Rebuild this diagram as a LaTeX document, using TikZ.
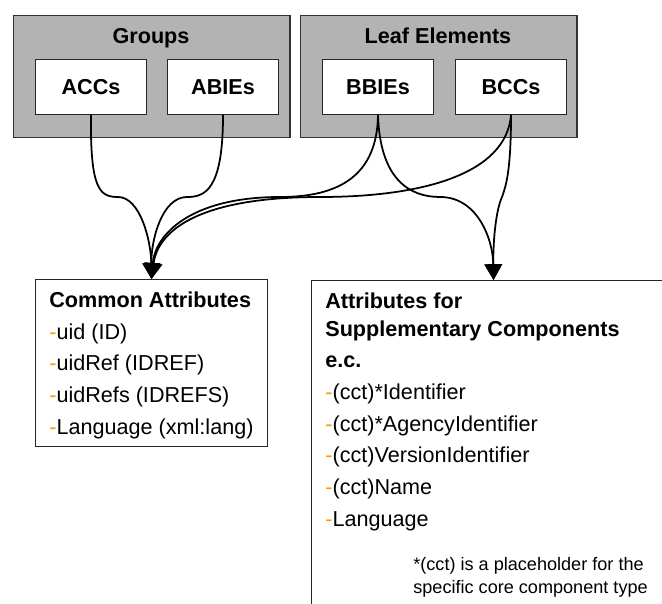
\documentclass[tikz,border=0pt]{standalone}
\usepackage{fontspec}
\setmainfont{Liberation Sans}
\usetikzlibrary{positioning, arrows.meta}
\definecolor{boxgray}{RGB}{179,179,179}
\definecolor{dashorange}{RGB}{255,153,0}
\newcommand{\attr}[1]{\textcolor{dashorange}{-}#1}

\begin{document}
\begin{tikzpicture}[x=0.02cm, y=-0.02cm,
    groupbox/.style={draw=black!80, fill=boxgray, line width=0.6pt, minimum width=5.53cm, minimum height=2.44cm, anchor=north west},
    elembox/.style={draw=black!85, fill=white, line width=0.6pt, minimum width=2.22cm, minimum height=1.1cm, anchor=north west, font=\fontsize{12.3}{14}\selectfont\bfseries},
    attbox/.style={draw=black!85, fill=white, line width=0.6pt, anchor=north west},
    titletext/.style={font=\fontsize{12.3}{14}\selectfont\bfseries, inner sep=0pt, anchor=base},
    headtext/.style={font=\fontsize{12.3}{14}\selectfont\bfseries, inner sep=0pt, anchor=base west},
    itemtext/.style={font=\fontsize{12.3}{14}\selectfont, inner sep=0pt, anchor=base west},
    notetext/.style={font=\fontsize{10.3}{12}\selectfont, inner sep=0pt, anchor=base west},
    link/.style={line width=1pt, -{Triangle[length=9pt,width=10pt]}}]
    \useasboundingbox (0,0) rectangle (662,604);

    % element groups
    \node[groupbox] (groups) at (13,15) {};
    \node[groupbox] (leaf) at (300,15) {};
    \node[titletext] (groupstitle) at (151,44) {Groups};
    \node[titletext] (leaftitle) at (438,44) {Leaf Elements};
    \node[elembox] (accs) at (35,59) {ACCs};
    \node[elembox] (abies) at (167,59) {ABIEs};
    \node[elembox] (bbies) at (322,59) {BBIEs};
    \node[elembox] (bccs) at (455,59) {BCCs};

    % attribute boxes
    \node[attbox, minimum width=4.64cm, minimum height=3.34cm] (common) at (35,279) {};
    \begin{scope}
        \clip (0,0) rectangle (662,604);
        \node[attbox, minimum width=7.28cm, minimum height=7.2cm] (supp) at (311,280) {};
    \end{scope}

    \node[headtext] (commonhead) at (49,308) {Common Attributes};
    \node[itemtext] (uid) at (49,339) {\attr{uid (ID)}};
    \node[itemtext] (uidref) at (49,370) {\attr{uidRef (IDREF)}};
    \node[itemtext] (uidrefs) at (49,402) {\attr{uidRefs (IDREFS)}};
    \node[itemtext] (commonlang) at (49,434) {\attr{Language (xml:lang)}};

    \node[headtext] (supphead) at (325,309) {Attributes for};
    \node[headtext] (supphead2) at (325,337) {Supplementary Components};
    \node[headtext] (suppec) at (325,367) {e.c.};
    \node[itemtext] (ident) at (325,399) {\attr{(cct)*Identifier}};
    \node[itemtext] (agency) at (325,431) {\attr{(cct)*AgencyIdentifier}};
    \node[itemtext] (version) at (325,462) {\attr{(cct)VersionIdentifier}};
    \node[itemtext] (name) at (325,494) {\attr{(cct)Name}};
    \node[itemtext] (supplang) at (325,526) {\attr{Language}};
    \node[notetext] (note) at (413,570) {*(cct) is a placeholder for the};
    \node[notetext] (note2) at (413,593) {specific core component type};

    % connectors
    \draw[link] (accs.south) .. controls (90,190) and (100,197) .. (118,197) .. controls (140,197) and (151,240) .. (common.north);
    \draw[link] (abies.south) .. controls (223,190) and (205,197) .. (187,197) .. controls (162,197) and (151,240) .. (common.north);
    \draw[link] (bbies.south) .. controls (377,175) and (340,197) .. (280,197) .. controls (190,197) and (155,235) .. (common.north);
    \draw[link] (bccs.south) .. controls (506,175) and (420,197) .. (320,197) .. controls (200,197) and (158,230) .. (common.north);
    \draw[link] (bbies.south) .. controls (380,180) and (410,197) .. (440,197) .. controls (478,197) and (493,240) .. (supp.north);
    \draw[link] (bccs.south) .. controls (511,175) and (505,188) .. (502,197) .. controls (496,210) and (493,240) .. (supp.north);
\end{tikzpicture}
\end{document}
